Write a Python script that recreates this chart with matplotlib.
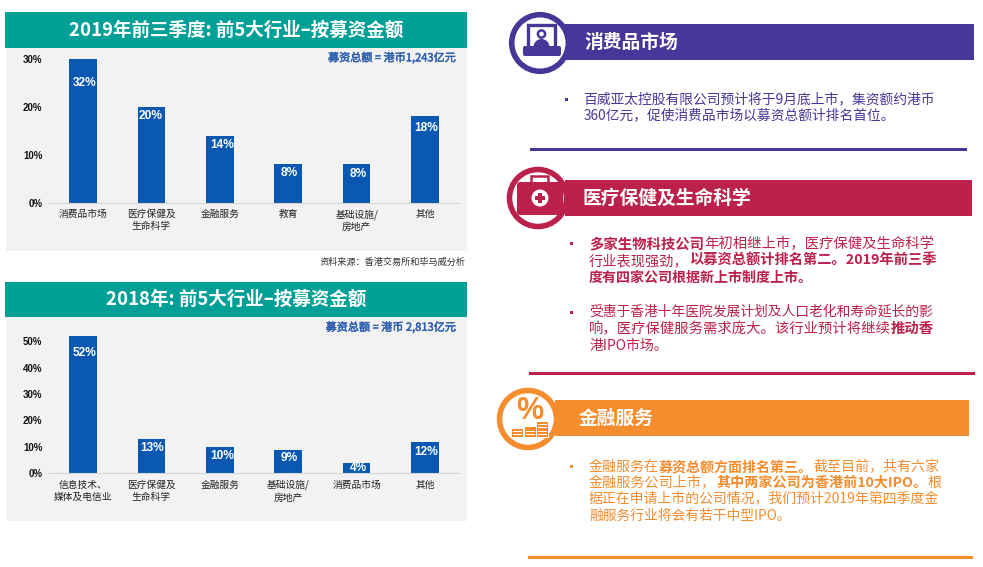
import matplotlib
matplotlib.use("Agg")
import matplotlib.pyplot as plt
import matplotlib.patheffects as pe
from matplotlib.patches import Rectangle, Circle, FancyBboxPatch, Wedge

plt.rcParams['font.family'] = ['Noto Sans CJK SC', 'DejaVu Sans']

W, H = 983, 567
TEAL = '#00A096'
GRAY = '#F2F2F2'
BLUE = '#0A58B2'
TOTAL = '#2E5FAE'
PURPLE = '#483698'
RED = '#BC214B'
ORANGE = '#F58D2F'

cats_2019 = ['消费品市场', '医疗保健及\n生命科学', '金融服务', '教育', '基础设施/\n房地产', '其他']
vals_2019 = [32, 20, 14, 8, 8, 18]
ticks_2019 = [0, 10, 20, 30]
cats_2018 = ['信息技术、\n媒体及电信业', '医疗保健及\n生命科学', '金融服务', '基础设施/\n房地产', '消费品市场', '其他']
vals_2018 = [52, 13, 10, 9, 4, 12]
ticks_2018 = [0, 10, 20, 30, 40, 50]

fig = plt.figure(figsize=(W / 100, H / 100), dpi=100, facecolor='white')
bg = fig.add_axes([0, 0, 1, 1])
bg.set_xlim(0, W)
bg.set_ylim(H, 0)
bg.axis('off')


def rect(x0, y0, x1, y1, c, z=1):
    bg.add_patch(Rectangle((x0, y0), x1 - x0, y1 - y0, fc=c, ec='none', zorder=z))


def chart(top, bottom, left, right, cats, vals, ticks, ymax, label_drop, label_shift):
    ax = fig.add_axes([left / W, 1 - bottom / H, (right - left) / W, (bottom - top) / H])
    ax.patch.set_alpha(0)
    x = range(len(cats))
    bars = ax.bar(x, vals, width=0.405, color=BLUE)
    ax.set_xlim(-0.5, len(cats) - 0.5)
    ax.set_ylim(0, ymax)
    ax.set_yticks(ticks, [f'{t}%' for t in ticks], family='Liberation Sans', weight='bold', fontsize=7, color='#111111')
    ax.set_xticks(list(x), cats, fontsize=7, color='#222222', linespacing=1.27, va='top')
    ax.tick_params(length=0, axis='both')
    ax.tick_params(axis='x', pad=4.5)
    ax.tick_params(axis='y', pad=4.5)
    for s in ('top', 'right', 'left'):
        ax.spines[s].set_visible(False)
    ax.spines['bottom'].set_color('#D4D4D4')
    ax.spines['bottom'].set_linewidth(0.8)
    for b, v, d, s in zip(bars, vals, label_drop, label_shift):
        ax.annotate(f'{v}%', (b.get_x() + b.get_width() / 2, min(v, ymax)), xytext=(s, -d),
                    textcoords='offset pixels', ha='center', va='center', color='white',
                    family='Liberation Sans', weight='bold', fontsize=8.6)
    return ax


medium = [pe.withStroke(linewidth=0.35, foreground=TOTAL)]

# Left panels
rect(6, 48, 467, 251, GRAY)
rect(5, 12, 467, 48, TEAL)
bg.text(236, 30, '2019年前三季度: 前5大行业–按募资金额', color='white', weight='bold', fontsize=13.35, ha='center', va='center')
bg.text(456, 57.5, '募资总额 = 港币1,243亿元', color=TOTAL, fontsize=8, ha='right', va='center', path_effects=medium)
chart(58.5, 203, 48.8, 459.2, cats_2019, vals_2019, ticks_2019, 30, [24, 9, 9.5, 8.5, 9.5, 11.5], [2, -1, 2, 1, 2, 1])
bg.text(466, 262, '资料来源：香港交易所和毕马威分析', color='#333333', fontsize=6.6, ha='right', va='center')

rect(6, 317, 467, 521, GRAY)
rect(5, 282, 467, 317, TEAL)
bg.text(236, 299.5, '2018年: 前5大行业–按募资金额', color='white', weight='bold', fontsize=13.35, ha='center', va='center')
bg.text(456, 327, '募资总额 = 港币 2,813亿元', color=TOTAL, fontsize=8, ha='right', va='center', path_effects=medium)
chart(336, 473.3, 48.8, 459.2, cats_2018, vals_2018, ticks_2018, 52, [17, 9, 9, 8, 5, 10], [2, 1, 2, 1, 2, 1])


def runs(x, y, end, parts, color, size=10.3):
    """Write consecutive normal/bold runs on one line, fitted between pixels x and end."""
    rend = fig.canvas.get_renderer()
    to_data = bg.transData.inverted()
    texts = [bg.text(0, y, s, color=color, fontsize=size, weight='bold' if b else 'normal', ha='left', va='center')
             for s, b in parts]

    def width(t):
        e = to_data.transform(t.get_window_extent(rend))
        return e[1][0] - e[0][0]

    total = sum(width(t) for t in texts)
    scale = (end - x) / total
    for t in texts:
        t.set_fontsize(size * scale)
        t.set_x(x)
        x += width(t)


def header(bar, cx, cy, r, c, title, tx):
    rect(*bar, c, z=2)
    bg.add_patch(Circle((cx, cy), r, fc='white', ec=c, lw=4, zorder=3))
    bg.text(tx, (bar[1] + bar[3]) / 2, title, color='white', weight='bold', fontsize=13.5, ha='left', va='center', zorder=4)


# Purple section
header((565, 24, 974, 60), 540, 43, 28.3, PURPLE, '消费品市场', 584.5)
bg.add_patch(Rectangle((528.3, 25.3), 26.5, 23, fc='white', ec=PURPLE, lw=2.4, zorder=5))
bg.add_patch(Circle((541.5, 34), 3.6, fc='white', ec=PURPLE, lw=1.8, zorder=6))
bg.add_patch(Wedge((541.5, 47), 8, 180, 360, fc=PURPLE, ec='none', zorder=6))
bg.add_patch(FancyBboxPatch((523, 46), 38, 10, boxstyle='round,pad=0,rounding_size=2', fc=PURPLE, ec='none', zorder=7))
rect(565, 97.5, 568, 100.5, PURPLE)
runs(583.5, 99, 935, [('百威亚太控股有限公司预计将于9月底上市，集资额约港币', False)], PURPLE)
runs(583.5, 115, 893, [('360亿元，促使消费品市场以募资总额计排名首位。', False)], PURPLE)
rect(530, 148, 967, 150.5, PURPLE)

# Red section
header((565, 180, 972, 216), 538, 198, 28.5, RED, '医疗保健及生命科学', 583)
bg.add_patch(Rectangle((531, 176), 17, 8, fc='white', ec=RED, lw=1.8, zorder=4.5))
bg.add_patch(FancyBboxPatch((517, 182), 46, 33, boxstyle='round,pad=0,rounding_size=3', fc=RED, ec='none', zorder=5))
bg.add_patch(Circle((540, 198), 8.5, fc='white', ec='none', zorder=6))
rect(538, 193, 542, 203, RED, z=7)
rect(535, 196, 545, 200, RED, z=7)
rect(570, 242, 573, 245, RED)
runs(589, 244, 933, [('多家生物科技公司', True), ('年初相继上市，医疗保健及生命科学', False)], RED)
runs(589, 261, 935, [('行业表现强劲，', False), ('以募资总额计排名第二。2019年前三季', True)], RED)
runs(589, 278, 813, [('度有四家公司根据新上市制度上市。', True)], RED)
rect(570, 311, 573, 314, RED)
runs(589, 312, 933, [('受惠于香港十年医院发展计划及人口老化和寿命延长的影', False)], RED)
runs(589, 329, 932, [('响，医疗保健服务需求庞大。该行业预计将继续', False), ('推动香', True)], RED)
runs(589, 346, 668, [('港IPO市场。', False)], RED)
rect(529, 372, 975, 375, RED)

# Orange section
header((555, 400, 969, 436), 528, 419, 28.5, ORANGE, '金融服务', 579)
bg.text(530, 411, '%', color=ORANGE, weight='bold', fontsize=22, family='Liberation Sans', ha='center', va='center', zorder=6)
for x0, y0, x1 in [(512, 429, 523), (524.5, 427, 535.5), (537, 422, 548)]:
    rect(x0 - 1, y0 - 1, x1 + 1, 438, 'white', z=6.5)
    rect(x0, y0, x1, 437, ORANGE, z=7)
    yy = 437 - 3
    while yy > y0:
        rect(x0 + 1, yy, x1 - 1, yy + 1, 'white', z=8)
        yy -= 3.5
rect(570, 465, 573, 468, ORANGE)
runs(589, 467, 939, [('金融服务在', False), ('募资总额方面排名第三。', True), ('截至目前，共有六家', False)], ORANGE)
runs(589, 483, 939, [('金融服务公司上市，', False), ('其中两家公司为香港前10大IPO。', True), ('根', False)], ORANGE)
runs(589, 499, 939, [('据正在申请上市的公司情况，我们预计2019年第四季度金', False)], ORANGE)
runs(589, 516, 791, [('融服务行业将会有若干中型IPO。', False)], ORANGE)
rect(528, 556, 973, 559, ORANGE)

fig.savefig('out.png', dpi=100)
